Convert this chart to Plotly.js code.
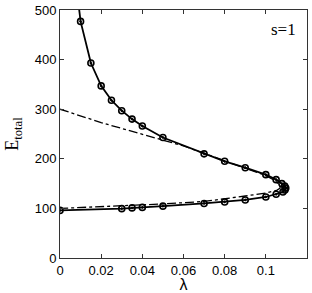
<!DOCTYPE html>
<html>
<head>
<meta charset="utf-8">
<script src="https://cdn.plot.ly/plotly-3.0.1.min.js"></script>
<style>html,body{margin:0;padding:0;background:#fff;}#chart{width:312px;height:293px;}</style>
</head>
<body>
<div id="chart"></div>
<script>
// Solid curve (upper branch from the top, round the nose, back along the lower branch)
const lambdaSolid = [0.0090, 0.010, 0.015, 0.020, 0.025, 0.030, 0.035, 0.040, 0.050, 0.070, 0.080, 0.090, 0.100, 0.105, 0.1078, 0.1092, 0.1097, 0.1093, 0.1083, 0.105, 0.100, 0.090, 0.080, 0.070, 0.050, 0.040, 0.035, 0.030, 0.000];
const energySolid = [512, 477, 393, 347, 318, 297, 280, 266, 243, 210, 195, 182, 168, 158, 150, 145, 141, 137, 133, 128.5, 123, 117, 113, 110, 104.5, 102, 101, 99.5, 96];
// Dash-dot curve
const lambdaDash = [0.000, 0.020, 0.048, 0.060, 0.070, 0.080, 0.090, 0.100, 0.104, 0.1065, 0.107, 0.1055, 0.104, 0.100, 0.090, 0.080, 0.070, 0.050, 0.030, 0.000];
const energyDash = [300, 273, 240, 226, 211, 196, 182, 166, 157, 148, 141, 137, 135, 131, 125, 119, 114, 109, 105, 100];
const xTicks = [0, 0.02, 0.04, 0.06, 0.08, 0.1];
const xTickText = ['0', '0.02', '0.04', '0.06', '0.08', '0.1'];
const yTicks = [0, 100, 200, 300, 400, 500];
const yTickText = ['0', '100', '200', '300', '400', '500'];

const traces = [
  {x: lambdaDash, y: energyDash, mode: 'lines', line: {color: '#000', width: 1.3, dash: 'dashdot'}, hoverinfo: 'skip'},
  {x: lambdaSolid, y: energySolid, mode: 'lines+markers', line: {color: '#000', width: 1.8},
   marker: {symbol: 'circle-open-dot', size: 6, color: '#000', line: {color: '#000', width: 1.6}}}
];
const axisCommon = {
  showgrid: false, zeroline: false, showline: true, linecolor: '#333', linewidth: 1, mirror: 'ticks',
  ticks: 'inside', ticklen: 4, tickcolor: '#333', tickwidth: 1,
  tickfont: {family: 'Liberation Sans, Arial, sans-serif', size: 13, color: '#000'}
};
const layout = {
  width: 312, height: 293,
  margin: {l: 60, r: 5, t: 10, b: 35},
  paper_bgcolor: '#fff', plot_bgcolor: '#fff',
  showlegend: false,
  xaxis: Object.assign({}, axisCommon, {range: [0, 0.12], tickmode: 'array', tickvals: xTicks, ticktext: xTickText,
    title: {text: 'λ', standoff: 0, font: {family: 'Liberation Sans, Arial, sans-serif', size: 16, color: '#000'}}}),
  yaxis: Object.assign({}, axisCommon, {range: [0, 500], tickmode: 'array', tickvals: yTicks, ticktext: yTickText,
    title: {text: 'E<sub>total</sub>', standoff: 11, font: {family: 'Liberation Serif, Times New Roman, serif', size: 18, color: '#000'}}}),
  annotations: [{text: 's=1', xref: 'paper', yref: 'paper', x: 0.965, y: 0.92, xanchor: 'right', yanchor: 'middle', showarrow: false,
    font: {family: 'Liberation Serif, Times New Roman, serif', size: 17, color: '#000'}}]
};
Plotly.newPlot('chart', traces, layout, {staticPlot: true, displayModeBar: false});
</script>
</body>
</html>
